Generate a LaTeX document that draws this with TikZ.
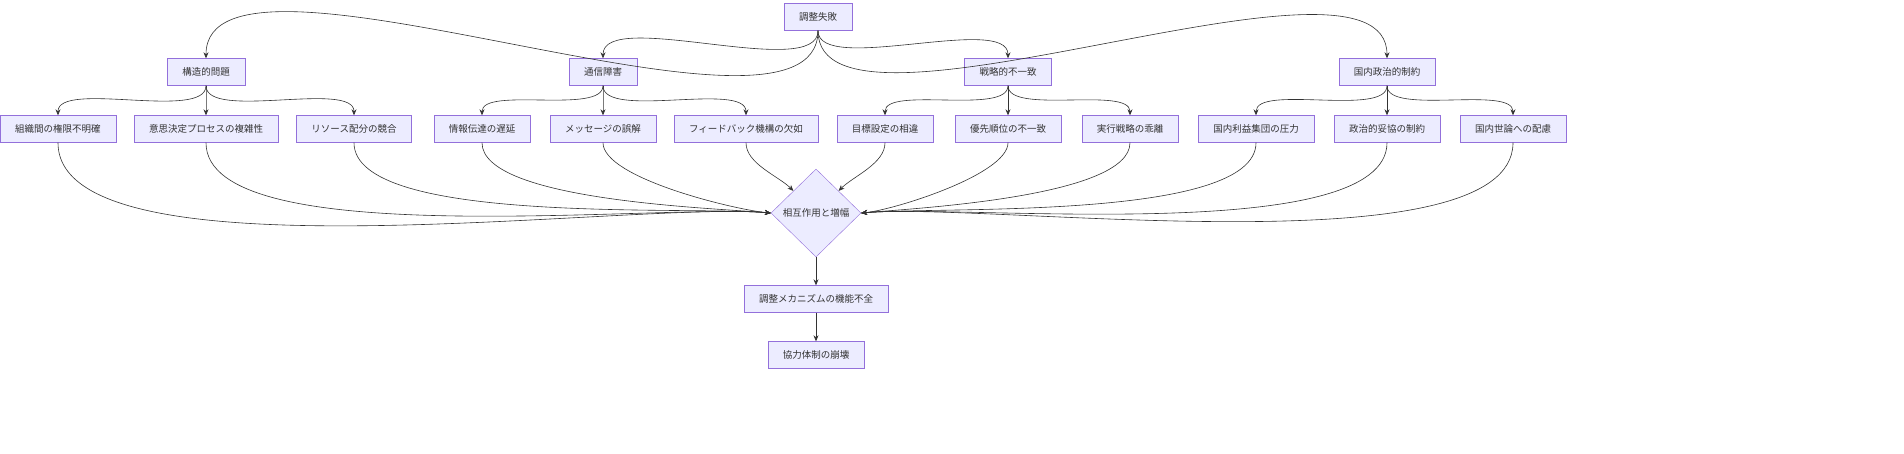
\documentclass[tikz,border=0pt]{standalone}
\usepackage{fontspec}
\setmainfont{Noto Sans CJK JP}
\usetikzlibrary{shapes.geometric,arrows.meta}
\definecolor{boxfill}{HTML}{ECECFF}
\definecolor{boxline}{HTML}{9370DB}
\definecolor{ink}{HTML}{333333}
\tikzset{
  box/.style={draw=boxline,fill=boxfill,text=ink,inner xsep=15pt,minimum height=27pt,font=\fontsize{9.5}{11}\selectfont},
  hub/.style={diamond,aspect=1,draw=boxline,fill=boxfill,text=ink,inner sep=2pt,minimum width=90pt,minimum height=88pt,font=\fontsize{9.5}{11}\selectfont},
  link/.style={draw=ink,line width=0.6pt,-{Stealth[length=6pt,width=5pt]}}
}
\begin{document}
\begin{tikzpicture}[x=1pt,y=1pt]
\useasboundingbox (0,0) rectangle (1904,-453);
\node[box] (fail) at (818,-17) {調整失敗};
% second level
\node[box] (struct) at (206,-72) {構造的問題};
\node[box] (comm) at (603,-72) {通信障害};
\node[box] (strat) at (1008,-72) {戦略的不一致};
\node[box] (dom) at (1387,-72) {国内政治的制約};
% third level
\node[box] (s1) at (58,-129) {組織間の権限不明確};
\node[box] (s2) at (206,-129) {意思決定プロセスの複雑性};
\node[box] (s3) at (354,-129) {リソース配分の競合};
\node[box] (c1) at (482,-129) {情報伝達の遅延};
\node[box] (c2) at (603,-129) {メッセージの誤解};
\node[box] (c3) at (746,-129) {フィードバック機構の欠如};
\node[box] (t1) at (885,-129) {目標設定の相違};
\node[box] (t2) at (1008,-129) {優先順位の不一致};
\node[box] (t3) at (1130,-129) {実行戦略の乖離};
\node[box] (d1) at (1256,-129) {国内利益集団の圧力};
\node[box] (d2) at (1387,-129) {政治的妥協の制約};
\node[box] (d3) at (1513,-129) {国内世論への配慮};
% bottom
\node[hub] (amp) at (816,-213) {相互作用と増幅};
\node[box] (mech) at (816,-299) {調整メカニズムの機能不全};
\node[box] (coll) at (816,-355) {協力体制の崩壊};

\foreach \n in {struct,comm,strat,dom}
  \draw[link] (fail.south) to[out=-90,in=90,looseness=0.6] (\n.north);
\foreach \p/\c in {struct/s1,struct/s2,struct/s3,comm/c1,comm/c2,comm/c3,strat/t1,strat/t2,strat/t3,dom/d1,dom/d2,dom/d3}
  \draw[link] (\p.south) to[out=-90,in=90,looseness=0.6] (\c.north);
\foreach \c in {s1,s2,s3,c1,c2}
  \draw[link] (\c.south) to[out=-90,in=175,looseness=0.5] (amp.west);
\foreach \c in {t2,t3,d1,d2,d3}
  \draw[link] (\c.south) to[out=-90,in=5,looseness=0.5] (amp.east);
\draw[link] (c3.south) to[out=-90,in=135,looseness=0.8] (amp.north west);
\draw[link] (t1.south) to[out=-90,in=45,looseness=0.8] (amp.north east);
\draw[link] (amp) -- (mech);
\draw[link] (mech) -- (coll);
\end{tikzpicture}
\end{document}
